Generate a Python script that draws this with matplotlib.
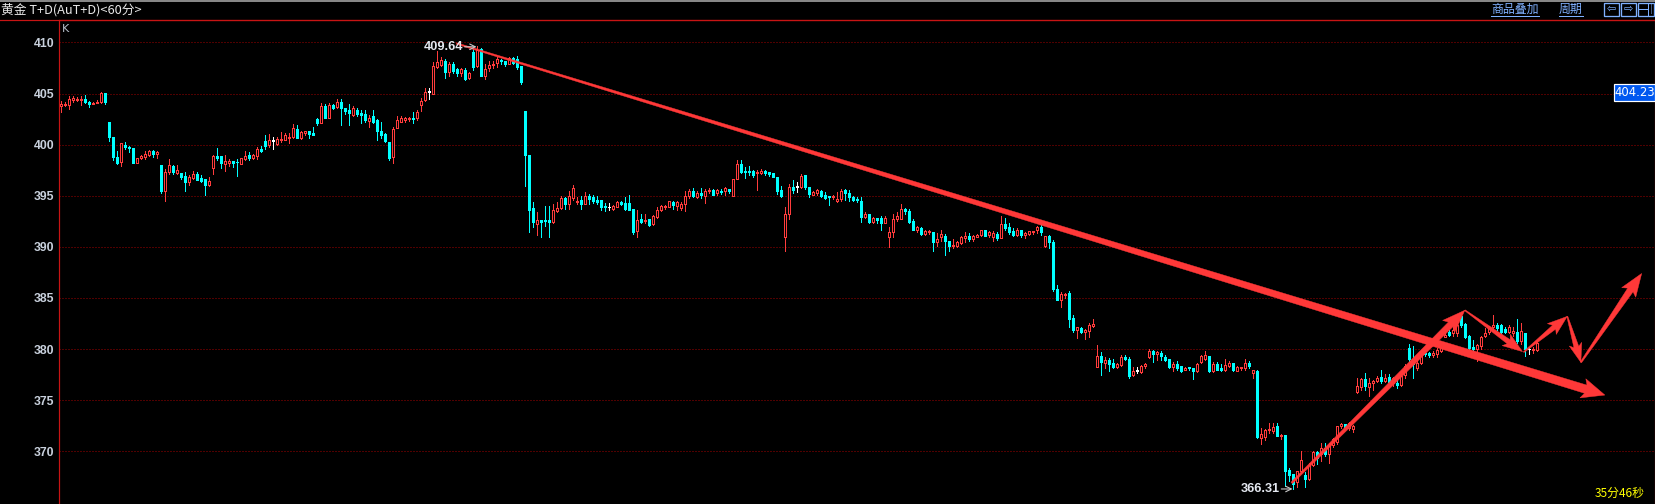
import matplotlib
matplotlib.use('Agg')
import matplotlib.pyplot as plt
from matplotlib.patches import Rectangle, Polygon
from matplotlib.transforms import IdentityTransform
import numpy as np

plt.rcParams['font.family'] = ['Noto Sans CJK SC', 'DejaVu Sans']

W, H, DPI = 1656, 504, 100

# ---------------- data (60-minute candles, AuT+D) ----------------
opens = [403.8,403.9,403.9,404.4,404.4,404.4,404.5,404.2,404.0,404.1,404.2,405.1,402.2,400.8,398.8,398.3,400.0,399.8,399.7,398.2,
 398.7,398.8,399.0,399.4,399.1,398.0,395.5,397.3,397.9,397.2,397.2,396.9,396.3,396.7,397.1,396.7,396.6,396.1,397.7,398.9,
 398.9,398.1,398.2,398.4,398.35,398.1,398.6,399.0,398.7,398.9,399.6,400.4,400.0,400.4,400.1,400.5,400.5,400.7,400.8,401.5,
 400.7,401.1,401.3,401.1,402.5,402.1,403.8,402.6,403.9,403.7,404.2,403.6,403.4,402.9,403.4,403.1,403.0,402.3,402.8,402.4,
 401.3,401.0,400.3,398.8,401.6,402.2,402.4,402.5,402.6,402.6,403.9,404.4,405.2,405.0,407.6,407.8,408.2,407.1,407.9,407.4,
 407.0,407.3,406.5,409.1,407.7,409.4,406.7,407.5,407.8,408.0,408.3,408.2,407.9,408.5,408.4,407.7,403.3,399.0,393.8,392.2,
 392.6,392.6,392.6,392.4,393.5,393.8,394.8,394.2,394.8,394.4,394.6,394.2,395.0,394.9,394.6,394.6,394.0,393.9,393.7,393.9,
 394.4,394.3,394.3,393.7,391.6,392.7,392.5,392.7,392.2,392.9,393.6,393.9,393.9,394.4,394.0,393.8,394.2,395.0,395.5,394.9,
 395.3,395.0,395.5,395.6,395.3,395.5,395.5,395.7,395.0,396.6,398.1,397.4,397.4,397.4,397.2,397.2,397.4,397.3,397.2,396.8,
 395.6,391.0,393.2,395.9,395.9,395.9,397.0,395.9,395.1,395.3,395.5,395.1,395.0,394.9,394.5,394.7,395.6,395.3,394.9,394.7,
 394.5,392.9,393.2,392.4,392.8,392.8,392.3,391.0,391.5,392.7,392.7,393.7,393.5,392.5,391.7,391.8,391.3,391.5,391.5,390.5,
 391.0,391.1,390.6,390.1,390.1,390.4,390.9,391.1,390.8,391.0,391.2,391.7,391.2,391.0,391.3,390.9,392.2,391.9,391.6,391.2,
 391.7,391.2,391.3,391.5,391.7,391.9,390.1,391.1,390.5,385.9,384.8,385.3,385.5,383.0,381.9,382.1,381.7,381.8,382.3,378.2,
 379.3,378.6,378.9,378.6,378.2,378.4,379.2,379.0,377.5,377.9,377.8,378.3,379.2,379.8,379.5,379.6,379.2,379.0,378.2,378.5,
 378.3,378.0,378.2,378.1,377.9,378.7,379.0,379.3,377.9,378.5,378.1,378.0,378.3,378.6,377.9,378.1,378.1,378.6,377.7,377.9,
 371.3,371.4,372.1,372.0,372.5,371.5,371.6,368.2,367.8,367.0,368.1,367.7,367.3,368.7,369.9,369.7,370.3,369.7,370.6,370.9,
 372.5,372.7,372.3,372.2,375.8,376.3,377.1,376.3,376.7,376.9,377.3,376.9,377.3,376.7,376.7,376.5,377.5,380.1,378.8,378.1,
 378.6,379.6,379.6,379.4,379.5,379.8,381.2,381.7,381.6,381.6,383.2,382.5,381.3,380.2,380.0,380.3,381.3,381.7,382.2,382.4,
 382.4,382.0,381.7,381.6,381.7,380.8,381.6,380.0,379.9,379.9]
highs = [404.3,404.2,404.8,404.8,404.7,404.8,404.9,404.3,404.2,404.4,405.2,405.1,402.2,400.8,399.4,400.2,400.3,399.9,399.7,398.7,
 399.0,399.4,399.5,399.5,399.4,398.0,397.6,398.6,398.0,398.0,397.2,397.3,397.0,397.4,397.3,397.0,396.6,396.8,399.0,399.7,
 398.9,399.0,398.6,398.4,398.6,398.7,399.4,399.3,399.1,399.8,399.9,400.9,401.0,400.8,400.8,401.2,401.1,401.1,402.0,401.9,
 401.3,401.3,401.3,401.7,402.6,404.1,404.0,404.1,404.0,404.5,404.5,403.6,404.0,403.8,403.6,403.4,403.4,402.9,403.4,402.5,
 402.2,401.1,400.3,401.7,402.8,402.8,402.7,402.7,403.2,403.4,404.6,405.5,405.5,408.1,409.2,408.6,408.4,408.1,408.1,407.5,
 407.5,407.5,407.1,409.4,409.64,409.5,407.9,408.2,408.2,408.6,408.4,408.2,408.6,408.6,408.7,407.7,403.3,399.0,394.4,393.4,
 392.6,394.0,394.0,394.2,394.4,395.0,394.9,395.5,396.1,394.9,395.0,395.4,395.2,395.1,395.0,394.6,394.3,394.3,394.1,394.5,
 394.5,394.9,395.1,393.7,393.6,393.2,393.2,392.7,393.1,393.9,394.1,394.1,394.5,394.5,394.5,394.4,395.5,395.7,395.8,395.5,
 395.8,395.7,395.8,395.7,395.7,395.7,395.9,395.7,396.6,398.5,398.5,397.8,397.9,397.5,397.5,397.6,397.5,397.3,397.2,396.8,
 396.0,393.9,396.2,396.5,396.3,397.1,397.0,395.9,395.5,395.7,395.6,395.4,395.0,395.1,395.4,395.7,395.7,395.6,395.0,394.9,
 394.9,393.4,393.2,392.9,392.8,393.0,393.0,391.9,393.2,393.4,394.2,393.8,393.7,392.7,392.0,391.9,391.7,391.7,391.5,391.4,
 391.7,391.3,390.6,390.8,390.6,391.1,391.5,391.4,391.2,391.3,391.7,391.7,391.6,391.6,391.5,393.0,392.8,392.3,391.8,391.8,
 391.7,391.5,391.6,391.6,392.0,392.2,391.1,391.2,390.7,386.3,385.6,385.5,385.7,383.3,382.2,382.2,382.0,382.6,382.9,380.4,
 379.7,379.2,379.1,379.0,378.6,379.4,379.4,379.2,378.2,378.2,378.4,378.6,380.0,379.9,379.8,379.8,379.4,379.0,378.7,378.8,
 378.3,378.2,378.2,378.1,378.6,379.4,379.8,379.3,378.7,378.7,378.5,379.0,378.8,378.6,378.3,378.2,379.0,378.8,378.0,378.0,
 372.3,372.2,372.8,372.8,372.8,371.7,371.6,368.4,367.8,368.1,370.0,368.0,368.9,370.0,370.0,370.8,370.8,370.8,371.3,372.5,
 372.8,372.7,372.9,372.6,377.2,377.2,377.7,377.2,377.0,377.4,378.0,377.6,377.6,377.3,377.2,377.6,378.5,380.5,380.3,378.8,
 379.4,379.8,379.7,379.8,380.1,380.4,381.7,381.9,382.2,382.6,383.4,382.6,381.4,380.9,380.5,381.3,382.1,382.3,383.3,382.6,
 382.5,382.2,382.4,382.2,382.9,382.6,381.6,380.1,380.2,380.9]
lows = [403.2,403.8,403.5,404.2,404.3,403.9,404.1,403.7,404.0,404.1,404.1,404.0,400.4,398.5,398.1,397.9,399.6,399.3,398.2,398.2,
 398.6,398.6,398.9,398.8,398.7,395.3,394.5,397.1,397.1,397.1,396.6,395.5,396.1,396.6,396.5,396.3,395.1,396.0,397.1,398.5,
 397.7,397.4,397.9,397.8,396.9,398.1,398.5,398.5,398.6,398.6,399.3,399.6,399.8,399.6,400.0,400.3,400.5,400.2,400.7,400.7,
 400.6,400.9,400.7,400.9,401.9,402.1,402.6,402.6,403.5,403.6,401.9,403.0,401.9,402.8,402.8,402.1,402.2,401.7,402.1,400.5,
 400.7,400.3,398.5,398.2,401.6,402.2,402.2,402.3,402.1,402.4,403.3,404.3,404.5,405.0,407.5,407.7,406.5,406.7,407.0,406.7,
 406.7,406.3,406.4,407.3,407.6,406.7,406.4,407.2,407.5,407.6,407.9,407.7,407.9,407.9,407.4,405.9,396.0,391.5,391.9,391.2,
 391.0,392.0,391.0,392.3,393.4,393.7,393.7,393.7,394.6,394.2,393.7,394.2,394.2,394.3,394.2,393.6,393.5,393.6,393.6,393.9,
 394.1,393.6,393.6,391.3,391.0,392.3,392.3,392.0,392.1,392.8,393.5,393.7,393.9,393.7,393.6,393.6,393.5,394.8,394.9,394.8,
 394.8,394.3,395.3,395.1,395.1,395.2,395.1,395.3,395.0,396.6,397.2,396.7,397.0,396.8,395.6,397.1,397.0,396.9,396.8,395.2,
 394.9,389.6,392.7,395.3,395.4,395.8,395.7,394.9,395.1,395.1,394.9,394.7,394.1,394.7,394.4,394.5,394.6,394.5,394.5,394.4,
 392.4,392.8,392.3,392.3,392.3,391.7,392.3,390.0,391.0,392.5,392.7,393.2,392.3,391.7,391.5,391.2,391.2,391.3,389.6,390.1,
 390.6,389.2,389.6,389.9,390.0,390.3,390.5,390.6,390.6,391.0,391.1,391.1,391.0,390.6,390.7,390.9,391.7,391.3,391.1,391.1,
 391.0,390.9,391.2,391.3,391.4,391.2,390.0,389.9,385.7,384.8,384.1,385.0,382.2,381.7,381.1,381.6,381.0,381.2,382.2,378.2,
 377.5,378.1,377.9,378.1,378.1,378.3,378.9,377.2,377.4,377.7,377.7,378.1,379.1,378.7,378.9,378.9,378.8,378.1,377.9,378.0,
 377.8,378.0,378.0,377.1,377.8,378.6,378.9,377.8,377.8,378.0,377.9,377.9,378.2,377.9,377.9,378.0,378.0,378.1,377.2,371.3,
 370.7,371.1,371.8,371.8,371.5,371.2,366.6,367.1,366.31,366.5,368.0,366.5,367.2,368.6,368.8,369.0,369.5,368.9,370.4,370.7,
 372.3,372.1,372.1,371.9,375.7,376.0,376.0,375.4,376.0,376.8,376.7,376.8,376.4,376.4,376.2,376.4,377.2,378.8,377.2,378.0,
 378.5,379.3,379.2,379.2,379.2,379.7,381.2,381.3,381.3,381.3,382.2,381.1,380.0,379.9,378.8,380.0,381.2,381.5,382.0,381.9,
 381.6,381.6,381.6,381.3,380.6,380.5,379.3,379.5,379.6,379.8]
closes = [404.0,404.0,404.5,404.6,404.5,404.5,404.2,404.0,404.1,404.2,405.1,404.2,400.8,398.8,398.2,400.2,399.8,399.7,398.2,398.7,
 398.9,399.1,399.4,399.1,399.3,395.5,397.3,398.0,397.3,397.5,396.8,396.3,396.8,397.1,396.5,396.4,396.1,396.4,398.9,398.7,
 398.2,398.4,398.4,398.2,398.3,398.7,398.9,398.7,399.0,399.6,399.4,399.9,400.5,400.4,400.6,400.6,400.9,400.8,401.6,400.7,
 401.2,401.3,401.0,400.9,402.1,403.8,402.6,403.9,403.6,404.2,403.6,403.3,403.1,403.6,403.0,402.9,402.4,402.6,402.2,401.3,
 400.9,400.4,398.7,401.5,402.4,402.6,402.6,402.6,402.5,403.2,404.3,405.2,405.2,407.7,408.1,408.3,407.1,407.9,407.2,407.0,
 407.4,406.4,407.0,407.6,409.3,406.7,407.4,407.8,407.9,408.4,408.2,407.9,408.5,408.0,407.6,406.1,399.0,393.6,392.4,392.6,
 392.4,392.5,392.4,393.6,393.8,394.8,394.2,395.0,395.8,394.5,394.2,395.0,394.7,394.5,394.4,393.9,393.9,393.9,394.0,394.4,
 394.2,393.7,393.6,391.5,392.6,392.4,392.6,392.1,393.0,393.6,394.0,394.0,394.5,394.1,394.4,394.2,395.0,395.5,395.0,395.3,
 395.1,395.5,395.6,395.1,395.6,395.4,395.8,395.5,396.6,398.1,397.3,397.3,397.3,397.0,397.3,397.4,397.2,397.1,396.8,395.5,
 395.0,393.2,395.9,395.6,395.9,396.9,395.9,395.2,395.4,395.6,395.0,394.8,394.9,395.0,394.7,395.5,395.3,394.9,394.6,394.6,
 392.9,393.2,392.4,392.8,392.6,392.3,392.8,391.5,392.7,393.0,393.7,393.5,392.4,391.7,391.9,391.3,391.6,391.6,390.5,390.8,
 391.3,390.6,390.1,390.2,390.5,391.0,391.1,390.8,391.1,391.2,391.7,391.1,391.5,391.4,390.9,392.2,391.8,391.5,391.2,391.7,
 391.2,391.4,391.6,391.6,391.9,391.5,391.1,390.5,385.9,384.8,385.4,385.4,382.9,381.9,382.2,381.7,381.9,382.4,382.5,379.3,
 378.7,378.9,378.5,378.2,378.5,379.2,379.0,377.4,377.9,377.9,378.3,378.5,379.8,379.5,379.7,379.3,378.9,378.2,378.5,378.1,
 377.9,378.1,378.1,377.9,378.5,379.3,379.4,377.9,378.5,378.0,378.0,378.4,378.6,378.0,378.2,378.2,378.6,378.3,378.0,371.4,
 371.7,372.1,372.2,372.4,371.5,371.6,368.1,367.7,366.8,368.1,369.1,367.3,368.7,369.9,369.3,370.3,369.7,370.6,371.2,372.5,
 372.7,372.2,372.8,372.5,376.4,377.1,376.4,376.7,376.9,377.2,376.9,377.2,376.8,377.2,376.5,377.4,378.3,379.0,378.5,378.6,
 379.3,379.5,379.4,379.6,379.9,380.3,381.4,381.4,381.9,382.4,382.4,381.2,380.1,380.0,380.4,381.2,381.6,382.1,382.4,382.1,
 381.7,381.7,382.2,381.8,380.8,381.8,380.0,380.0,380.0,380.6]

y_ticks = [370, 375, 380, 385, 390, 395, 400, 405, 410]
title_text = "黄金 T+D(AuT+D)<60分>"
menu_items = ["商品叠加", "周期"]
high_idx, high_val = 104, 409.64
low_idx, low_val = 308, 366.31
last_price_label = "404.23"
timer_text = "35分46秒"

# hand-drawn annotation arrows: (start index, start price, end index, end price)
arrow_trend = (98.8, 409.9, 385.9, 375.5)
arrow_legs = [
    (307.6, 366.9, 350.9, 383.8),
    (350.9, 383.8, 365.3, 379.75),
    (365.6, 379.7, 376.5, 383.2),
    (376.5, 383.2, 379.9, 378.7),
    (379.9, 378.7, 395.1, 387.4),
]

# ---------------- styling ----------------
RED = '#ff3c3c'
CYAN = '#00ffff'
ARROW_RED = '#ff3838'
FRAME_RED = '#c81414'
GRID_RED = '#a00000'
AX_L, AX_R, AX_T = 59.5, 1655.0, 19.5
PX = 72.0 / DPI

fig = plt.figure(figsize=(W / DPI, H / DPI), dpi=DPI, facecolor='black')
ax = fig.add_axes([AX_L / W, 0, (AX_R - AX_L) / W, (H - AX_T) / H])
ax.set_facecolor('black')
ax.set_xlim(-0.45, 398.43)
ax.set_ylim(364.84, 412.25)

for s in ['bottom']:
    ax.spines[s].set_visible(False)
for s in ['left', 'right', 'top']:
    ax.spines[s].set_color(FRAME_RED)
    ax.spines[s].set_linewidth(PX * 1.2)

ax.set_xticks([])
ax.set_yticks(y_ticks)
ax.set_yticklabels([str(v) for v in y_ticks], family='Liberation Sans',
                   fontweight='bold', fontsize=8.8, color='#c8d0dc')
ax.tick_params(axis='y', length=0, pad=3.8)

for v in y_ticks:
    ax.axhline(v, color=GRID_RED, lw=PX, linestyle=(0, (1, 2)), zorder=1)

# ---------------- candles ----------------
n = len(opens)
xs = np.arange(n)
bw = 0.5
for i in range(n):
    o, hgh, low, c = opens[i], highs[i], lows[i], closes[i]
    hgh = max(hgh, o, c)
    low = min(low, o, c)
    if c > o:
        col, face = RED, 'black'
    elif c < o:
        col, face = CYAN, CYAN
    else:
        col, face = 'white', 'white'
    ax.vlines(xs[i], low, hgh, color=col, lw=PX, zorder=2, antialiased=False)
    bottom = min(o, c)
    height = max(abs(c - o), 0.02)
    ax.add_patch(Rectangle((xs[i] - bw / 2, bottom), bw, height, facecolor=face,
                           edgecolor=col, lw=PX, zorder=3, antialiased=False))

# ---------------- annotation arrows ----------------
def tapered_arrow(a, w0, w1, head_len, head_w):
    x0, y0, x1, y1 = a
    p0 = ax.transData.transform((x0, y0))
    p1 = ax.transData.transform((x1, y1))
    d = p1 - p0
    L = np.hypot(*d)
    u = d / L
    nrm = np.array([-u[1], u[0]])
    pb = p1 - u * head_len
    pts = [p0 + nrm * w0 / 2, pb + nrm * w1 / 2, pb - u * 3 + nrm * head_w / 2, p1,
           pb - u * 3 - nrm * head_w / 2, pb - nrm * w1 / 2, p0 - nrm * w0 / 2]
    poly = Polygon(pts, closed=True, facecolor=ARROW_RED, edgecolor=ARROW_RED, lw=0.3,
                   transform=IdentityTransform(), zorder=6)
    ax.add_patch(poly)

tapered_arrow(arrow_trend, 1.5, 8.5, 20, 20)
leg_styles = [(2, 6.5, 20, 17), (1, 5, 17, 14), (1, 5, 17, 14), (1, 5, 16, 13), (1.5, 6.5, 20, 17)]
for a, st in zip(arrow_legs, leg_styles):
    tapered_arrow(a, *st)

# ---------------- high / low markers ----------------
ax.annotate('', xy=(high_idx - 0.2, high_val - 0.06), xytext=(high_idx - 3.2, high_val - 0.06),
            arrowprops=dict(arrowstyle='->', color='#c8c8c8', lw=0.8, shrinkA=0, shrinkB=0), zorder=7)
ax.text(high_idx - 3.5, high_val - 0.06, f"{high_val:.2f}", ha='right', va='center',
        family='Liberation Sans', fontweight='bold', fontsize=9.2, color='#e4e8f0', zorder=7)
ax.annotate('', xy=(low_idx - 0.2, low_val), xytext=(low_idx - 3.0, low_val),
            arrowprops=dict(arrowstyle='->', color='#c8c8c8', lw=0.8, shrinkA=0, shrinkB=0), zorder=7)
ax.text(low_idx - 3.4, low_val, f"{low_val:.2f}", ha='right', va='center',
        family='Liberation Sans', fontweight='bold', fontsize=9.2, color='#e4e8f0', zorder=7)

# ---------------- header / chrome (pixel coordinates) ----------------
def fy(py):
    return H - py

id_t = IdentityTransform()
fig.add_artist(plt.Line2D([0, W], [fy(0.5), fy(0.5)], color='#b4b4b4', lw=PX * 1.5, transform=id_t))
fig.add_artist(plt.Line2D([0, W], [fy(AX_T), fy(AX_T)], color=FRAME_RED, lw=PX * 1.2, transform=id_t))

fig.text(1, fy(10), title_text, transform=id_t, ha='left', va='center', fontsize=9.2,
         color='#e8e8e8', family=['Noto Sans CJK SC', 'DejaVu Sans'])

menu_x = [(1491, 1539), (1559, 1583)]
for (xa, xb), txt in zip(menu_x, menu_items):
    fig.text(xa, fy(9), txt, transform=id_t, ha='left', va='center', fontsize=8.6,
             color='#7fb0ff', family=['Noto Sans CJK SC', 'DejaVu Sans'])
    fig.add_artist(plt.Line2D([xa, xb], [fy(16.3), fy(16.3)], color='#7fb0ff', lw=PX, transform=id_t))

boxes = [(1604, '\u21e6'), (1621, '\u21e8')]
for bx, sym in boxes:
    fig.add_artist(Rectangle((bx, fy(15.5)), 15, 13, facecolor='black', edgecolor='#7fb0ff',
                             lw=PX * 1.3, transform=id_t))
    fig.text(bx + 7.5, fy(9), sym, transform=id_t, ha='center', va='center', fontsize=8,
             color='#7fb0ff', family='DejaVu Sans')
fig.add_artist(Rectangle((1638, fy(15.5)), 16, 13, facecolor='black', edgecolor='#7fb0ff',
                         lw=PX * 1.3, transform=id_t))
fig.add_artist(plt.Line2D([1648, 1648], [fy(3), fy(15)], color='#7fb0ff', lw=PX, transform=id_t))
fig.add_artist(plt.Line2D([1638.5, 1648], [fy(9), fy(9)], color='#7fb0ff', lw=PX, transform=id_t))
fig.add_artist(plt.Line2D([1651, 1651], [fy(4), fy(14)], color='#7fb0ff', lw=PX,
                          linestyle=(0, (1, 1)), transform=id_t))

fig.text(62, fy(29.5), 'K', transform=id_t, ha='left', va='center', fontsize=8,
         color='#b8c0cc', family='DejaVu Sans')

# last price box
fig.add_artist(Rectangle((1613.5, fy(100.5)), 41.5, 17, facecolor='#0058f0', edgecolor='white',
                         lw=PX * 1.2, transform=id_t, zorder=8))
fig.text(1634.5, fy(92), last_price_label, transform=id_t, ha='center', va='center', fontsize=8.4,
         color='white', family='DejaVu Sans', zorder=9)

fig.text(1645, fy(493), timer_text, transform=id_t, ha='right', va='center', fontsize=8.6,
         color='#ffff00', family=['Noto Sans CJK SC', 'DejaVu Sans'])

fig.savefig('out.png', dpi=DPI, facecolor='black')
